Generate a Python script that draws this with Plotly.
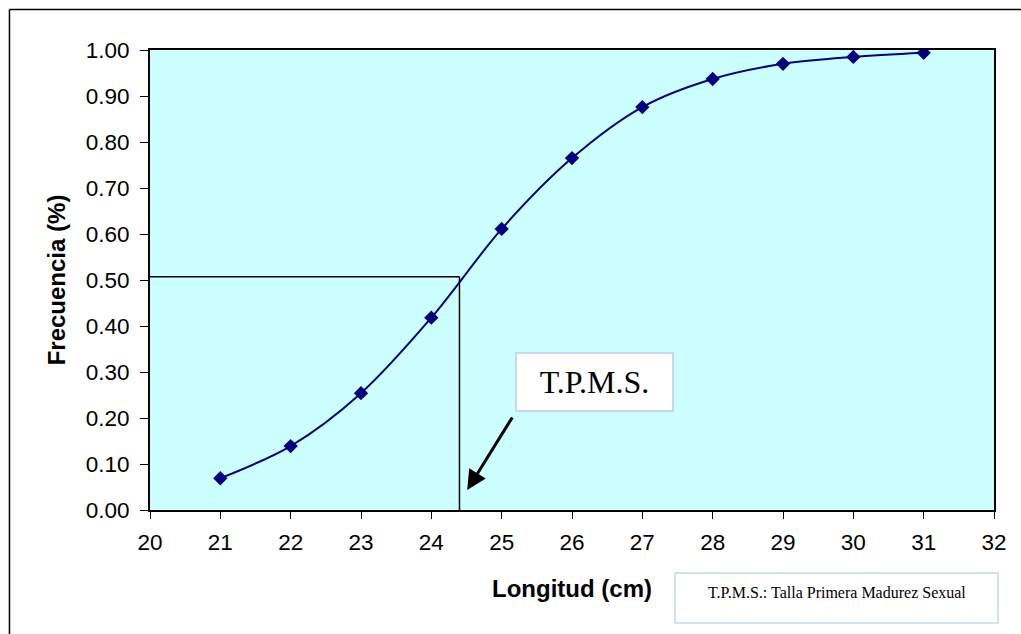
import plotly.graph_objects as go

# Cumulative frequency of maturity by length class
longitud = [21, 22, 23, 24, 25, 26, 27, 28, 29, 30, 31]
frecuencia = [0.069, 0.139, 0.254, 0.418, 0.611, 0.765, 0.876, 0.937, 0.970, 0.985, 0.994]

# Length at 50 % maturity (T.P.M.S.)
tpms_x = 24.4
tpms_y = 0.507

x_ticks = list(range(20, 33))
y_ticks = [round(i * 0.1, 1) for i in range(11)]

fig = go.Figure()

fig.add_trace(go.Scatter(
    x=longitud, y=frecuencia,
    mode="lines+markers",
    line=dict(color="#000080", width=2, shape="spline", smoothing=0.9),
    marker=dict(symbol="diamond", size=11, color="#000080"),
    showlegend=False,
))

# Reference lines at the 50 % point
fig.add_shape(type="line", xref="x", yref="y", x0=20, x1=tpms_x, y0=tpms_y, y1=tpms_y,
              line=dict(color="black", width=1.5))
fig.add_shape(type="line", xref="x", yref="y", x0=tpms_x, x1=tpms_x, y0=0, y1=tpms_y,
              line=dict(color="black", width=1.5))

# Outer chart frame (left and top edges)
fig.add_shape(type="line", xref="paper", yref="paper", x0=-0.1665, x1=-0.1665, y0=-0.4, y1=1.088,
              line=dict(color="black", width=1.5))
fig.add_shape(type="line", xref="paper", yref="paper", x0=-0.1665, x1=1.1, y0=1.088, y1=1.088,
              line=dict(color="black", width=1.5))

# Label box with arrow pointing to the T.P.M.S. value
fig.add_annotation(
    x=26.32, y=0.278, xref="x", yref="y",
    xanchor="center", yanchor="middle",
    text="T.P.M.S.", showarrow=False,
    font=dict(family="Liberation Serif, Times New Roman, serif", size=32, color="black"),
    bgcolor="white", bordercolor="#c8d6ee", borderwidth=2, borderpad=2,
    width=151, height=52,
)
fig.add_annotation(
    x=24.51, y=0.0435, xref="x", yref="y",
    ax=46, ay=-74, axref="pixel", ayref="pixel",
    text="", showarrow=True,
    arrowhead=2, arrowsize=1.3, arrowwidth=3, arrowcolor="black",
)

# Footnote box
fig.add_shape(type="rect", xref="paper", yref="paper",
              x0=(675 - 150) / 844, x1=(998 - 150) / 844,
              y0=-(623 - 510) / 460, y1=-(573 - 510) / 460,
              line=dict(color="#c8d6ee", width=1.5), fillcolor="white")
fig.add_annotation(
    x=(836.5 - 150) / 844, y=-(592 - 510) / 460, xref="paper", yref="paper",
    xanchor="center", yanchor="middle",
    text="T.P.M.S.: Talla Primera Madurez Sexual", showarrow=False,
    font=dict(family="Liberation Serif, Times New Roman, serif", size=16, color="black"),
)

axis_font = dict(family="Liberation Sans, Arial, sans-serif", size=22.5, color="black")
title_font = dict(family="Liberation Sans, Arial, sans-serif", size=24, color="black")

fig.update_layout(
    width=1021, height=634,
    margin=dict(l=150, r=27, t=50, b=124, autoexpand=False),
    paper_bgcolor="white",
    plot_bgcolor="#ccffff",
    xaxis=dict(
        range=[20, 32], tickvals=x_ticks, ticktext=[str(v) for v in x_ticks],
        showgrid=False, zeroline=False,
        showline=True, linecolor="black", linewidth=2, mirror=True,
        ticks="outside", ticklen=7, tickcolor="black", tickwidth=1,
        tickfont=axis_font, ticklabelstandoff=4,
        title=dict(text="<b>Longitud (cm)</b>", font=title_font, standoff=26),
    ),
    yaxis=dict(
        range=[0, 1], tickvals=y_ticks, ticktext=[f"{v:.2f}" for v in y_ticks],
        showgrid=False, zeroline=False,
        showline=True, linecolor="black", linewidth=2, mirror=True,
        ticks="outside", ticklen=8, tickcolor="black", tickwidth=1,
        tickfont=axis_font, ticklabelstandoff=6,
        title=dict(text="<b>Frecuencia (%)</b>", font=title_font, standoff=13),
    ),
)

fig.write_html("out.html")
